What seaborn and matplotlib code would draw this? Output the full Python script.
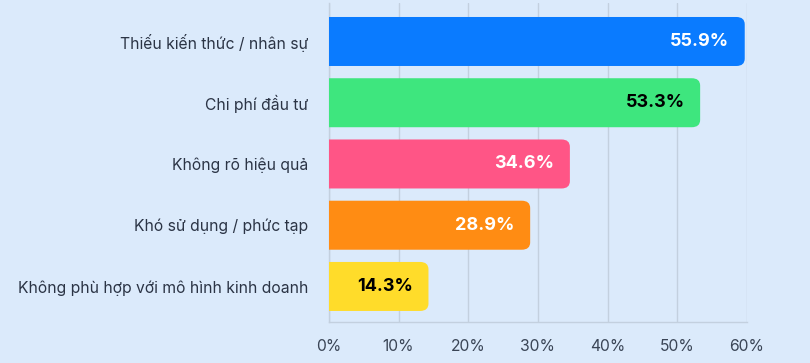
import matplotlib
matplotlib.use("Agg")
import matplotlib.pyplot as plt
import seaborn as sns
import pandas as pd
from matplotlib.patches import FancyBboxPatch
from matplotlib.ticker import FuncFormatter

categories = ["Thiếu kiến thức / nhân sự", "Chi phí đầu tư", "Không rõ hiệu quả",
              "Khó sử dụng / phức tạp", "Không phù hợp với mô hình kinh doanh"]
# bar lengths as drawn in the picture (first bar is drawn longer than its label)
bar_lengths = [59.7, 53.3, 34.6, 28.9, 14.3]
value_labels = ["55.9%", "53.3%", "34.6%", "28.9%", "14.3%"]
colors = ["#0a7bff", "#3ee67e", "#ff5586", "#ff8c13", "#ffdc2a"]
label_colors = ["white", "black", "white", "white", "black"]
xticks = [0, 10, 20, 30, 40, 50, 60]

bg = "#dbeafb"
sns.set_theme(style="white")
plt.rcParams["font.family"] = ["Inter", "DejaVu Sans"]

df = pd.DataFrame({"cat": categories, "val": bar_lengths})

fig = plt.figure(figsize=(8.1, 3.63), dpi=100, facecolor=bg)
ax = fig.add_axes([0.406, 0.113, 0.516, 0.879])
ax.set_facecolor(bg)

sns.barplot(data=df, x="val", y="cat", hue="cat", palette=colors, legend=False,
            width=0.8, ax=ax, zorder=3)

# replace bars with right-rounded ones (left rounding clipped by axes)
patches = list(ax.patches)
for p, c in zip(patches, colors):
    x0, y0, w, h = p.get_x(), p.get_y(), p.get_width(), p.get_height()
    p.set_visible(False)
    rp = FancyBboxPatch((x0 - 2, y0), w + 2, h,
                        boxstyle="round,pad=0,rounding_size=1.2",
                        mutation_aspect=0.1,
                        facecolor=c, edgecolor="none", zorder=3, clip_on=True)
    ax.add_patch(rp)

ax.set_xlim(0, 60)
ax.set_ylim(4.58, -0.63)
ax.set_xticks(xticks)
ax.xaxis.set_major_formatter(FuncFormatter(lambda v, _: f"{v:.0f}%"))
ax.grid(axis="x", color="#c3d0df", linewidth=1, zorder=0)
ax.grid(axis="y", visible=False)
for s in ["top", "right"]:
    ax.spines[s].set_visible(False)
for s in ["left", "bottom"]:
    ax.spines[s].set_color("#c3d0df")
    ax.spines[s].set_linewidth(1)
    ax.spines[s].set_zorder(1)
ax.set_xlabel("")
ax.set_ylabel("")
ax.tick_params(axis="y", length=0, pad=15, labelsize=11.3, labelcolor="#2b3445")
ax.tick_params(axis="x", length=0, pad=12, labelsize=11.3, labelcolor="#3a4556")

for i, (v, t, lc) in enumerate(zip(bar_lengths, value_labels, label_colors)):
    ax.text(v - 2.2, i, t, ha="right", va="center", color=lc,
            fontsize=13, fontweight="bold", zorder=4)

fig.savefig("out.png", dpi=100, facecolor=bg)
